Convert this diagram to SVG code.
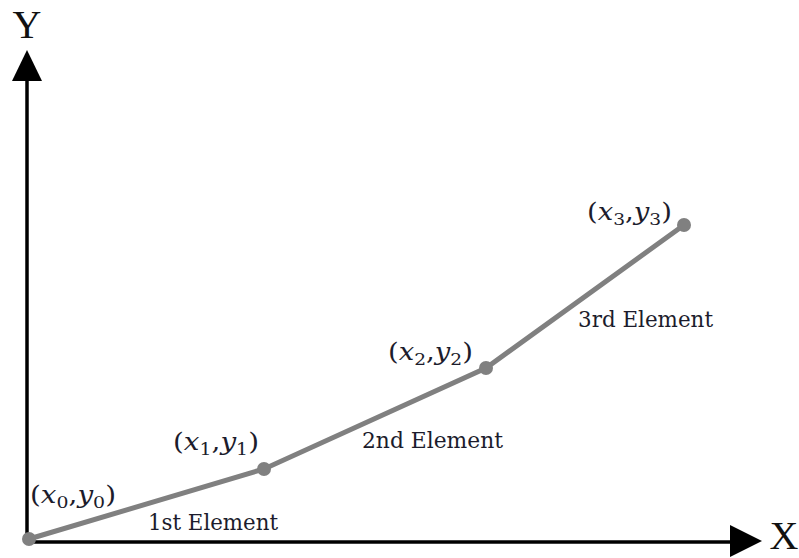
<svg xmlns="http://www.w3.org/2000/svg" width="799" height="558" viewBox="0 0 799 558">
<style>
.axis{stroke:#000;stroke-width:3.5;fill:none}
.seg{stroke:#808080;stroke-width:5;fill:none;stroke-linecap:round}
.pt{fill:#808080}
.ax{font-family:"Liberation Serif",serif;font-size:40px;fill:#111}
.coord{font-family:"DejaVu Serif","Liberation Serif",serif;font-size:25px;fill:#1c1c2c}
.it{font-style:italic}
.sub{font-size:17px}
.el{font-family:"DejaVu Serif","Liberation Serif",serif;font-size:22px;fill:#1c1c2c}
</style>
<rect width="799" height="558" fill="#fff"/>
<g id="axes">
<line class="axis" x1="27" y1="543" x2="27" y2="78"/>
<polygon points="27,50 12,81 42,81" fill="#000"/>
<line class="axis" x1="25" y1="542" x2="733" y2="542"/>
<polygon points="762,541 730,525 730,557" fill="#000"/>
<text class="ax" x="27" y="38" text-anchor="middle">Y</text>
<text class="ax" x="784" y="549" font-size="34" text-anchor="middle">X</text>
</g>
<g id="connectors">
<polyline class="seg" points="29,539 264,469 486,368 684,225"/>
</g>
<g id="p0"><circle class="pt" cx="29" cy="539" r="7"/>
<text class="coord" x="30" y="503" textLength="86" lengthAdjust="spacingAndGlyphs">(<tspan class="it">x</tspan><tspan class="sub" dy="5">0</tspan><tspan dy="-5">,</tspan><tspan class="it">y</tspan><tspan class="sub" dy="5">0</tspan><tspan dy="-5">)</tspan></text></g>
<g id="p1"><circle class="pt" cx="264" cy="469" r="7"/>
<text class="coord" x="173" y="450" textLength="86" lengthAdjust="spacingAndGlyphs">(<tspan class="it">x</tspan><tspan class="sub" dy="5">1</tspan><tspan dy="-5">,</tspan><tspan class="it">y</tspan><tspan class="sub" dy="5">1</tspan><tspan dy="-5">)</tspan></text></g>
<g id="p2"><circle class="pt" cx="486" cy="368" r="7"/>
<text class="coord" x="388" y="360" textLength="85" lengthAdjust="spacingAndGlyphs">(<tspan class="it">x</tspan><tspan class="sub" dy="5">2</tspan><tspan dy="-5">,</tspan><tspan class="it">y</tspan><tspan class="sub" dy="5">2</tspan><tspan dy="-5">)</tspan></text></g>
<g id="p3"><circle class="pt" cx="684" cy="225" r="7"/>
<text class="coord" x="587" y="220" textLength="85" lengthAdjust="spacingAndGlyphs">(<tspan class="it">x</tspan><tspan class="sub" dy="5">3</tspan><tspan dy="-5">,</tspan><tspan class="it">y</tspan><tspan class="sub" dy="5">3</tspan><tspan dy="-5">)</tspan></text></g>
<g id="labels">
<text class="el" x="148" y="530" textLength="130" lengthAdjust="spacingAndGlyphs">1st Element</text>
<text class="el" x="362" y="448" textLength="141" lengthAdjust="spacingAndGlyphs">2nd Element</text>
<text class="el" x="578" y="327" textLength="135" lengthAdjust="spacingAndGlyphs">3rd Element</text>
</g>
</svg>
